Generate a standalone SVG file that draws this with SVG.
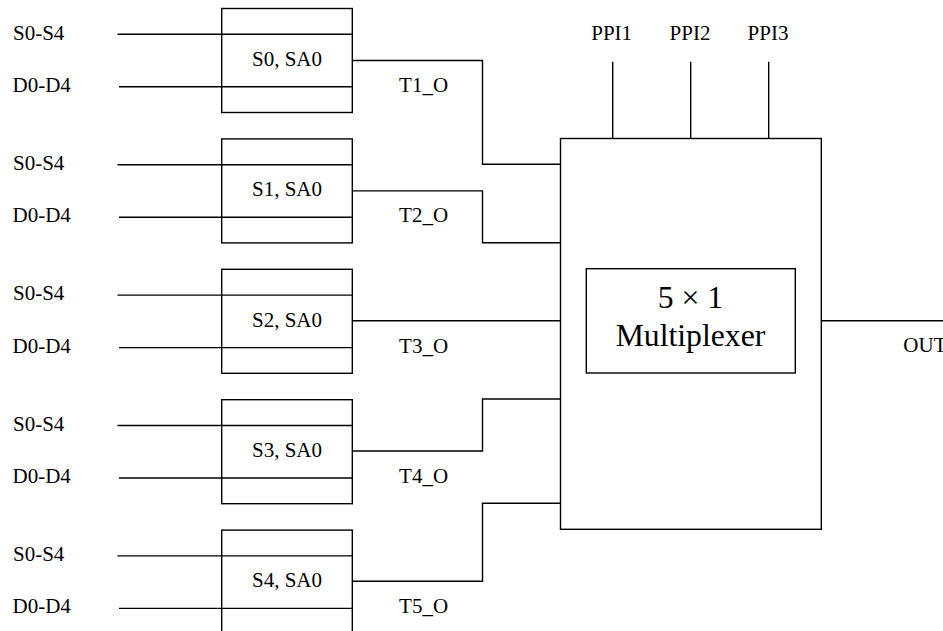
<svg xmlns="http://www.w3.org/2000/svg" width="943" height="631" viewBox="0 0 943 631">
<style>
.ln{fill:none;stroke:#000;stroke-width:1.4}
.bx{fill:none;stroke:#000;stroke-width:1.4}
.mx{fill:#fff;stroke:#000;stroke-width:1.4}
text{font-family:'Liberation Serif','DejaVu Serif',serif;font-size:21px;fill:#000}
.c{text-anchor:middle}
.big{font-size:31.7px}
</style>
<rect width="943" height="631" fill="#fff"/>
<g id="connectors">
<path class="ln" d="M117.5 34.3H352.3M119 86.8H352.3"/>
<path class="ln" d="M117.5 164.7H352.3M119 217.2H352.3"/>
<path class="ln" d="M117.5 295.1H352.3M119 347.6H352.3"/>
<path class="ln" d="M117.5 425.5H352.3M119 478H352.3"/>
<path class="ln" d="M117.5 555.9H352.3M119 608.4H352.3"/>
<path class="ln" d="M352.3 60.5H482.5V164.3H560.5"/>
<path class="ln" d="M352.3 190.9H482.5V242.7H560.5"/>
<path class="ln" d="M352.3 320.8H560.5"/>
<path class="ln" d="M352.3 451H482.5V399H560.5"/>
<path class="ln" d="M352.3 581.2H482.5V503.2H560.5"/>
<path class="ln" d="M612.7 61.7V138.5M690.7 61.7V138.5M768.7 61.7V138.5"/>
<path class="ln" d="M821.3 320.8H943"/>
</g>
<g id="labels-left">
<text x="13" y="39.5">S0-S4</text><text x="12.5" y="91.8">D0-D4</text>
<text x="13" y="169.9">S0-S4</text><text x="12.5" y="222.2">D0-D4</text>
<text x="13" y="300.3">S0-S4</text><text x="12.5" y="352.6">D0-D4</text>
<text x="13" y="430.7">S0-S4</text><text x="12.5" y="483">D0-D4</text>
<text x="13" y="561.1">S0-S4</text><text x="12.5" y="613.4">D0-D4</text>
</g>
<g id="node-s0"><rect class="bx" x="221.7" y="8.5" width="130.6" height="104"/><text class="c" x="287" y="65.7">S0, SA0</text></g>
<g id="node-s1"><rect class="bx" x="221.7" y="138.9" width="130.6" height="104"/><text class="c" x="287" y="196.1">S1, SA0</text></g>
<g id="node-s2"><rect class="bx" x="221.7" y="269.3" width="130.6" height="104"/><text class="c" x="287" y="326.5">S2, SA0</text></g>
<g id="node-s3"><rect class="bx" x="221.7" y="399.7" width="130.6" height="104"/><text class="c" x="287" y="456.9">S3, SA0</text></g>
<g id="node-s4"><rect class="bx" x="221.7" y="530.1" width="130.6" height="104"/><text class="c" x="287" y="587.3">S4, SA0</text></g>
<g id="labels-t">
<text class="c" x="423.6" y="91.8">T1_O</text>
<text class="c" x="423.6" y="222.2">T2_O</text>
<text class="c" x="423.6" y="352.6">T3_O</text>
<text class="c" x="423.6" y="483">T4_O</text>
<text class="c" x="423.6" y="613.4">T5_O</text>
</g>
<g id="node-mux">
<rect class="mx" x="560.5" y="138.5" width="260.8" height="390.8"/>
<rect class="mx" x="586.3" y="268.7" width="209" height="104.3"/>
<text class="c big" x="690.5" y="308.3">5 × 1</text>
<text class="c big" x="690.5" y="345.7">Multiplexer</text>
</g>
<g id="labels-ppi">
<text class="c" x="611.7" y="39.5">PPI1</text>
<text class="c" x="690" y="39.5">PPI2</text>
<text class="c" x="768" y="39.5">PPI3</text>
</g>
<text x="903.3" y="351.7">OUT</text>
</svg>
